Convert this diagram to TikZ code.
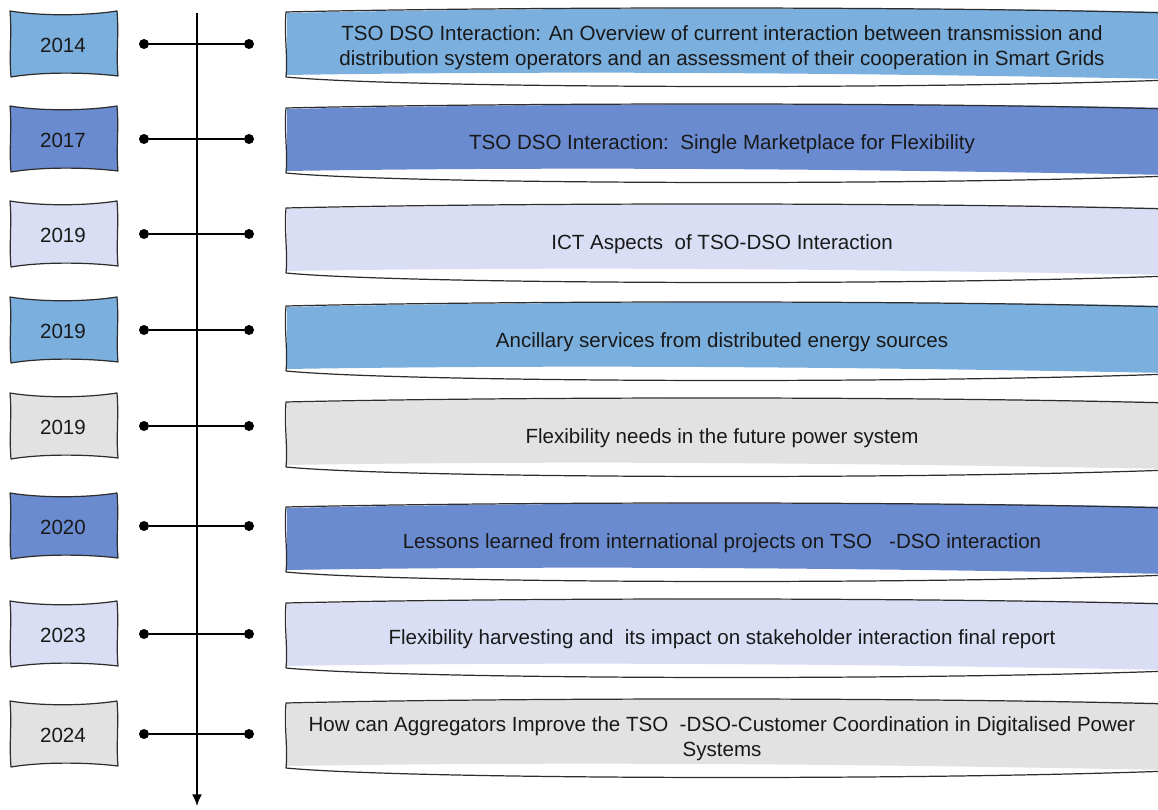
\documentclass[tikz,border=0pt]{standalone}
\usepackage{fontspec}
\setmainfont{Liberation Sans}
\usetikzlibrary{arrows.meta}
\definecolor{skyBlue}{RGB}{123,175,222}
\definecolor{midBlue}{RGB}{106,139,208}
\definecolor{paleBlue}{RGB}{217,222,245}
\definecolor{softGray}{RGB}{226,226,226}
\definecolor{inkDark}{RGB}{45,45,45}

\tikzset{
  sketch/.style={draw=inkDark, line width=0.9pt, line join=round},
  yearlabel/.style={font=\fontsize{15.2}{18}\selectfont, text=black!90, inner sep=0pt},
  topiclabel/.style={font=\fontsize{15.2}{18.6}\selectfont, text=black!90, align=center, inner sep=0pt},
  dot/.style={circle, fill=black, inner sep=0pt, minimum size=7.4pt},
  link/.style={black, line width=1.4pt},
}

\begin{document}
\begin{tikzpicture}[x=0.026cm, y=-0.026cm]
    \useasboundingbox (0,0) rectangle (1158,810);
    \clip (0,0) rectangle (1158,810);
    % time axis
    \coordinate (axtop) at (197,13);
    \coordinate (axend) at (197,806);
    \draw[link, -{Latex[length=3mm, width=2.6mm]}] (axtop) -- (axend);
    \foreach \i/\cy/\ty/\col/\yr/\txt in {
        1/44/45/skyBlue/2014/{TSO DSO Interaction: An Overview of current interaction between transmission and\\distribution system operators and an assessment of their cooperation in Smart Grids},
        2/139/141/midBlue/2017/{TSO DSO Interaction:\ \ Single Marketplace for Flexibility},
        3/234/241/paleBlue/2019/{ICT Aspects\ \ of TSO-DSO Interaction},
        4/330/339/skyBlue/2019/{Ancillary services from distributed energy sources},
        5/426/435/softGray/2019/{Flexibility needs in the future power system},
        6/526/540/midBlue/2020/{Lessons learned from international projects on TSO\ \ \ -DSO interaction},
        7/634/636/paleBlue/2023/{Flexibility harvesting and\ \ its impact on stakeholder interaction final report},
        8/734/736/softGray/2024/{How can Aggregators Improve the TSO\ \ -DSO-Customer Coordination in Digitalised Power\\Systems}}
    {
        % year card
        \filldraw[sketch, fill=\col] (10,\cy-33) .. controls (40,\cy-28) and (85,\cy-28) .. (117,\cy-33)
            .. controls (119,\cy-10) and (116,\cy+10) .. (118,\cy+32)
            .. controls (85,\cy+28) and (40,\cy+28) .. (11,\cy+33)
            .. controls (9,\cy+10) and (12,\cy-10) .. cycle;
        \node[yearlabel] (y\i) at (63,\cy+1) {\yr};
        % topic banner, fill and outline drawn apart
        \fill[\col] (287,\ty-32) .. controls (500,\ty-37) and (900,\ty-39) .. (1170,\ty-33)
            -- (1170,\ty+34) .. controls (900,\ty+29) and (600,\ty+25) .. (287,\ty+30) -- cycle;
        \draw[sketch] (1170,\ty-32) .. controls (900,\ty-39) and (500,\ty-38) .. (286,\ty-33)
            .. controls (284,\ty-10) and (288,\ty+12) .. (286,\ty+32)
            .. controls (400,\ty+43) and (900,\ty+45) .. (1170,\ty+35);
        \node[topiclabel] (t\i) at (722,\ty+3) {\txt};
        % tick across the axis
        \node[dot] (l\i) at (144,\cy) {};
        \node[dot] (r\i) at (249,\cy) {};
        \draw[link] (l\i) -- (r\i);
    }
\end{tikzpicture}
\end{document}
